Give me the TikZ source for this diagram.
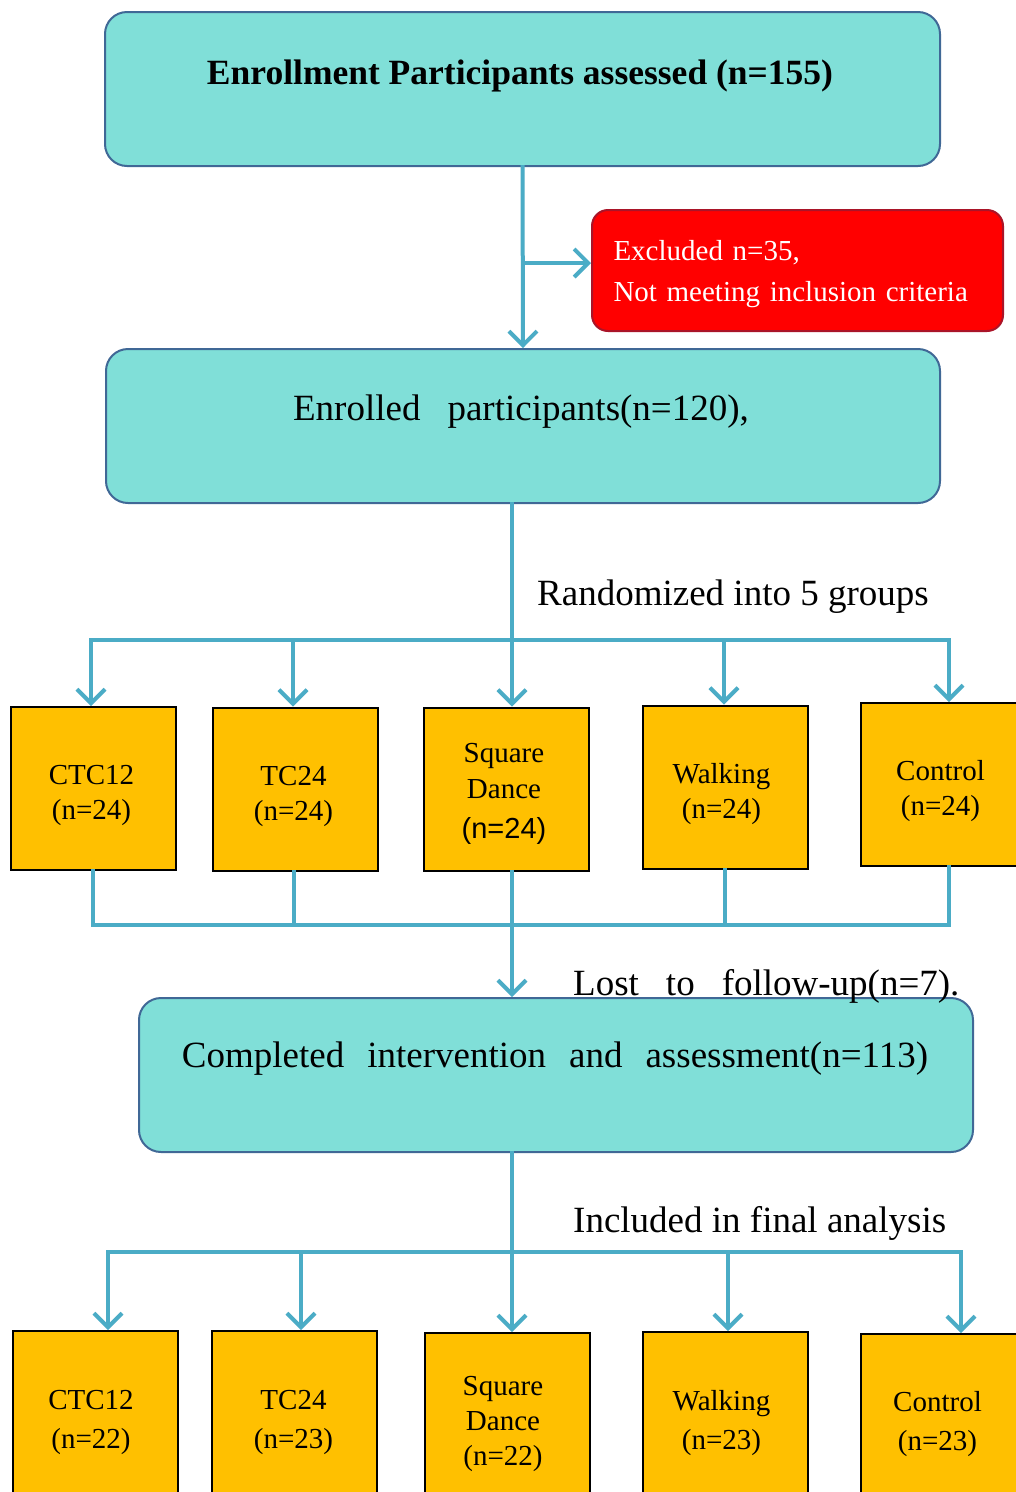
\documentclass[tikz,border=0pt]{standalone}
\usepackage{fontspec}
\setmainfont{Liberation Serif}
\newfontfamily\arialf{Liberation Sans}
\usetikzlibrary{arrows.meta,calc}
\definecolor{cyanfill}{RGB}{128,223,216}
\definecolor{cyanedge}{RGB}{64,104,150}
\definecolor{redfill}{RGB}{255,0,0}
\definecolor{rededge}{RGB}{170,20,40}
\definecolor{orfill}{RGB}{255,192,0}
\definecolor{connc}{RGB}{75,172,198}
\begin{document}
\begin{tikzpicture}[x=1pt,y=-1pt,
  bigbox/.style={draw=cyanedge,line width=2pt,fill=cyanfill,rounded corners=22pt,inner sep=0pt,minimum height=154pt},
  exclbox/.style={draw=rededge,line width=2pt,fill=redfill,rounded corners=16pt,minimum height=121pt,minimum width=411pt},
  excltxt/.style={text=white,font=\fontsize{29}{41}\selectfont,align=left,text width=368pt,inner sep=0pt},
  grp/.style={draw=black,line width=2pt,fill=orfill,minimum width=165pt,minimum height=163pt,inner sep=0pt},
  grpb/.style={grp,minimum height=168pt},
  gt/.style={align=center,font=\fontsize{29}{35}\selectfont,inner sep=0pt},
  gtb/.style={gt,font=\fontsize{29}{39}\selectfont},
  boxtext/.style={font=\fontsize{37}{42}\selectfont,inner sep=0pt},
  lab/.style={font=\fontsize{37}{42}\selectfont,anchor=west,inner sep=0pt},
  conn/.style={draw=connc,line width=4pt,line cap=rect},
  arr/.style={conn,-{Straight Barb[length=14pt,width=28pt]}}]
\useasboundingbox (0,0) rectangle (1016,1492);
\fill[white] (0,0) rectangle (1016,1492);

% main boxes
\node[bigbox,minimum width=835pt] (top) at (522.5,89) {};
\node[boxtext,font=\fontsize{35.5}{40}\selectfont\bfseries] (toptext) at (520,76) {Enrollment Participants assessed (n=155)};
\node[exclbox] (excl) at (797.5,270.5) {};
\node[excltxt] (excltext) at (797.5,274.5) {Excluded n=35,\\Not meeting inclusion criteria};
\node[bigbox,minimum width=834pt] (enr) at (523,426) {};
\node[boxtext] (enrtext) at (521,412) {Enrolled\hspace{27pt}participants(n=120),};

% first row of groups
\node[grp] (g1) at (93.5,788.5) {};
\node[grp] (g2) at (295.5,789) {};
\node[grp] (g3) at (506,789) {};
\node[grp] (g4) at (725.5,787) {};
\node[grp] (g5) at (943.5,784.5) {};
\node[gt] (g1t) at ($(g1.center)+(-2,7)$) {CTC12\\(n=24)};
\node[gt] (g2t) at ($(g2.center)+(-2,7)$) {TC24\\(n=24)};
\node[gt,font=\fontsize{29}{36}\selectfont] (g3t) at ($(g3.center)+(-2,5)$) {Square\\Dance\\[4pt]{\arialf (n=24)}};
\node[gt] (g4t) at ($(g4.center)+(-4,7)$) {Walking\\(n=24)};
\node[gt] (g5t) at ($(g5.center)+(-3,7)$) {Control\\(n=24)};

% completed box
\node[bigbox,minimum width=834pt] (comp) at (556,1075) {};
\node[boxtext] (comptext) at (555,1059) {Completed\hspace{23pt}intervention\hspace{23pt}and\hspace{23pt}assessment(n=113)};

% second row of groups
\node[grpb] (h1) at (95,1415) {};
\node[grpb] (h2) at (294.5,1415) {};
\node[grpb] (h3) at (507,1417) {};
\node[grpb] (h4) at (725.5,1416) {};
\node[grpb] (h5) at (943.5,1418) {};
\node[gtb] (h1t) at ($(h1.center)+(-4,7)$) {CTC12\\(n=22)};
\node[gtb] (h2t) at ($(h2.center)+(-1,7)$) {TC24\\(n=23)};
\node[gtb,font=\fontsize{29}{35}\selectfont] (h3t) at ($(h3.center)+(-4,7)$) {Square\\Dance\\(n=22)};
\node[gtb] (h4t) at ($(h4.center)+(-4,7)$) {Walking\\(n=23)};
\node[gtb] (h5t) at ($(h5.center)+(-6,6)$) {Control\\(n=23)};

% labels
\node[lab] (lrand) at (537,597) {Randomized into 5 groups};
\node[lab] (llost) at (573,986) {Lost\hspace{27pt}to\hspace{27pt}follow-up(n=7).};
\node[lab] (lincl) at (573,1223) {Included in final analysis};

% connectors: top part
\coordinate (j1) at (523,263);
\draw[arr] (top.south) -- (enr.north);
\draw[arr] (j1) -- (j1 -| excl.west);

% randomisation bus
\coordinate (bus1) at (512,640);
\coordinate (b11) at (91,640);
\coordinate (b12) at (293,640);
\coordinate (b14) at (724,640);
\coordinate (b15) at (949,640);
\draw[conn] (enr.south -| bus1) -- (bus1);
\draw[conn] (b11) -- (b15);
\draw[arr] (b11) -- (b11 |- g1.north);
\draw[arr] (b12) -- (b12 |- g2.north);
\draw[arr] (bus1) -- (bus1 |- g3.north);
\draw[arr] (b14) -- (b14 |- g4.north);
\draw[arr] (b15) -- (b15 |- g5.north);

% collection bus
\coordinate (c1) at (93,925);
\coordinate (c2) at (294,925);
\coordinate (cm) at (512,925);
\coordinate (c4) at (725,925);
\coordinate (c5) at (949,925);
\draw[conn] (g1.south -| c1) -- (c1);
\draw[conn] (g2.south -| c2) -- (c2);
\draw[conn] (g3.south -| cm) -- (cm);
\draw[conn] (g4.south -| c4) -- (c4);
\draw[conn] (g5.south -| c5) -- (c5);
\draw[conn] (c1) -- (c5);
\draw[arr] (cm) -- (cm |- comp.north);

% final analysis bus
\coordinate (bus2) at (512,1252);
\coordinate (d1) at (108,1252);
\coordinate (d2) at (301,1252);
\coordinate (d4) at (728,1252);
\coordinate (d5) at (961,1252);
\draw[conn] (comp.south -| bus2) -- (bus2);
\draw[conn] (d1) -- (d5);
\draw[arr] (d1) -- (d1 |- h1.north);
\draw[arr] (d2) -- (d2 |- h2.north);
\draw[arr] (bus2) -- (bus2 |- h3.north);
\draw[arr] (d4) -- (d4 |- h4.north);
\draw[arr] (d5) -- (d5 |- h5.north);
\end{tikzpicture}
\end{document}
